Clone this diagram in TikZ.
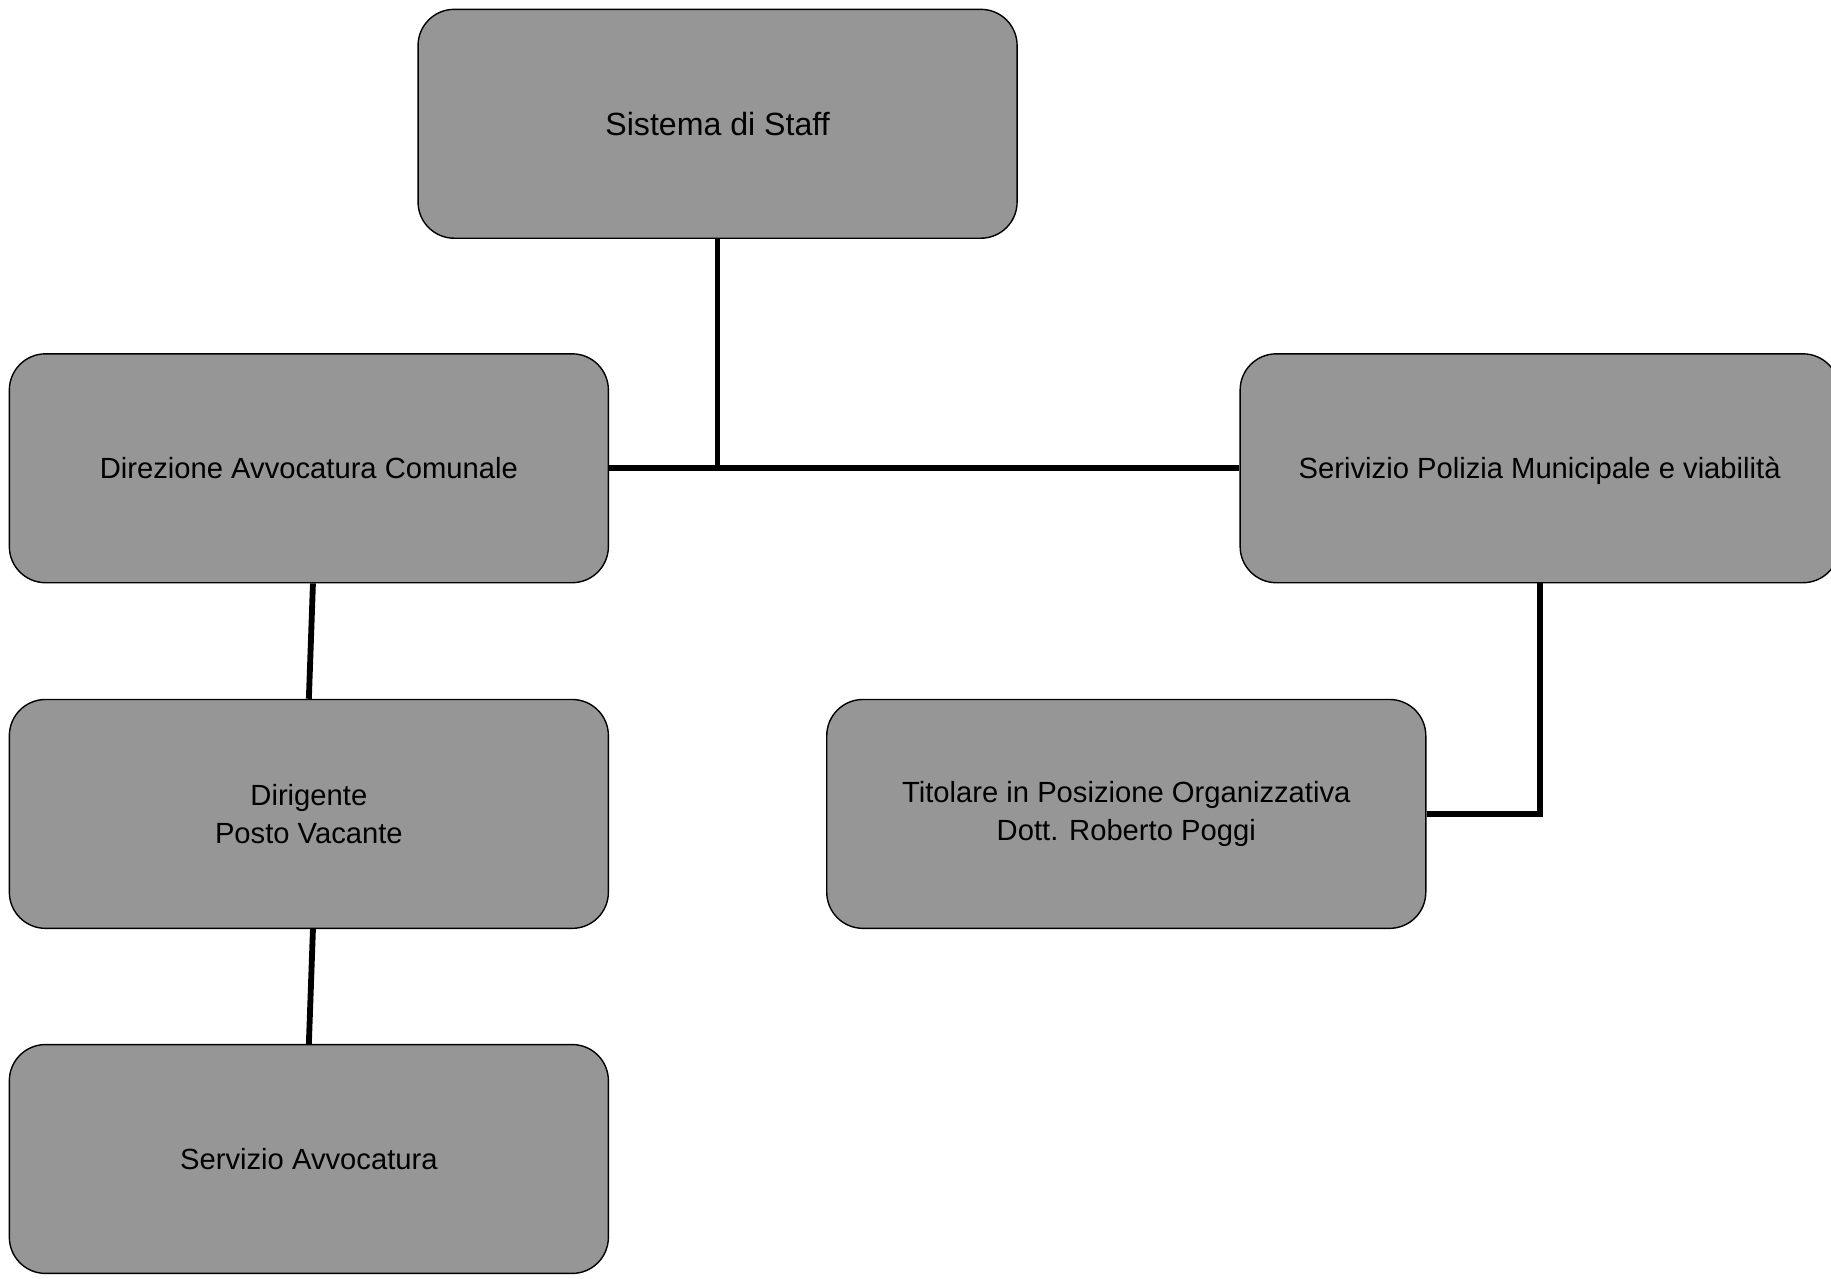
\documentclass[tikz,border=0pt]{standalone}
\usepackage{fontspec}
\setmainfont{Liberation Sans}
\definecolor{boxgray}{RGB}{150,150,150}

\begin{document}
\begin{tikzpicture}[x=1pt,y=-1pt]
	\tikzstyle{box}=[draw,fill=boxgray,rounded corners=31pt,line width=1.2pt,
		minimum width=513pt,minimum height=196pt,align=center,
		font=\fontsize{25}{32}\selectfont]
	\tikzstyle{link}=[line width=5pt]
	\useasboundingbox (0,0) rectangle (1568,1095);
	% boxes
	\node[box,font=\fontsize{27.5}{33}\selectfont] (staff) at (614.5,106) {Sistema di Staff};
	\node[box] (avv) at (264.5,401) {Direzione Avvocatura Comunale};
	\node[box,text height=18pt,text depth=0pt] (pm) at (1318.5,401) {Serivizio Polizia Municipale e viabilità};
	\node[box] (dir) at (264.5,697) {Dirigente\\Posto Vacante};
	\node[box] (tit) at (964.5,697) {Titolare in Posizione Organizzativa\\Dott. Roberto Poggi};
	\node[box] (serv) at (264.5,992.5) {Servizio Avvocatura};
	% links
	\draw[link] (staff.south) -- (staff.south |- avv.east);
	\draw[link] (avv.east) -- (pm.west);
	\draw[link] ([xshift=3.5pt]avv.south) -- (dir.north);
	\draw[link] ([xshift=3.5pt]dir.south) -- (serv.north);
	\draw[link] (pm.south) |- (tit.east);
\end{tikzpicture}
\end{document}
